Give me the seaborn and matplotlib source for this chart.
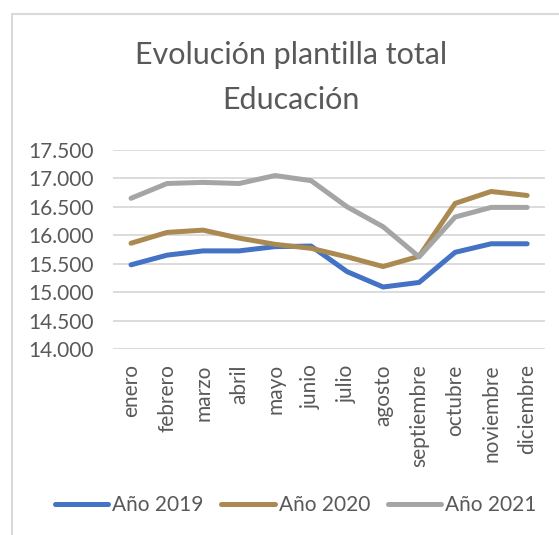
import matplotlib.pyplot as plt
import seaborn as sns
import pandas as pd
from matplotlib.lines import Line2D
from matplotlib.ticker import FuncFormatter

meses = ['enero', 'febrero', 'marzo', 'abril', 'mayo', 'junio', 'julio',
         'agosto', 'septiembre', 'octubre', 'noviembre', 'diciembre']
anio_2019 = [15480, 15650, 15725, 15725, 15800, 15810, 15360, 15090, 15170, 15700, 15850, 15850]
anio_2020 = [15860, 16050, 16090, 15950, 15840, 15770, 15620, 15450, 15630, 16560, 16770, 16700]
anio_2021 = [16650, 16910, 16930, 16910, 17050, 16960, 16500, 16150, 15620, 16320, 16490, 16490]
series = ['Año 2019', 'Año 2020', 'Año 2021']
colores = ['#4472C4', '#AA8A50', '#A5A5A5']

df = pd.DataFrame({'mes': meses * 3,
                   'x': list(range(12)) * 3,
                   'valor': anio_2019 + anio_2020 + anio_2021,
                   'serie': [s for s in series for _ in meses]})

sns.set_style('white')
plt.rcParams['font.family'] = ['Lato', 'DejaVu Sans']
gris = '#595959'

fig = plt.figure(figsize=(5.59, 5.35), dpi=100)
ax = fig.add_axes([0.2022, 0.3477, 0.773, 0.372])
sns.lineplot(data=df, x='x', y='valor', hue='serie', palette=colores,
             linewidth=3.6, legend=False, ax=ax, solid_capstyle='round')

ax.set_xlim(-0.5, 11.5)
ax.set_ylim(14000, 17500)
ax.set_yticks(range(14000, 17501, 500))
ax.yaxis.set_major_formatter(FuncFormatter(lambda v, p: f'{int(v):,}'.replace(',', '.')))
ax.set_xticks(range(12))
ax.set_xticklabels(meses, rotation=90)
ax.tick_params(axis='both', length=0, colors=gris, labelsize=15)
ax.tick_params(axis='x', pad=11)
ax.tick_params(axis='y', pad=14)
ax.grid(axis='y', color='#D9D9D9', linewidth=1.3)
ax.set_axisbelow(True)
for s in ax.spines.values():
    s.set_visible(False)
ax.set_xlabel('')
ax.set_ylabel('')

fig.text(0.52, 0.897, 'Evolución plantilla total', ha='center', va='center',
         fontsize=22, color=gris)
fig.text(0.52, 0.813, 'Educación', ha='center', va='center',
         fontsize=22, color=gris)

handles = [Line2D([0], [0], color=c, lw=3.6, solid_capstyle='round') for c in colores]
fig.legend(handles, series, loc='center', bbox_to_anchor=(0.529, 0.056), ncol=3,
           frameon=False, fontsize=15, labelcolor=gris, handlelength=2.55,
           handletextpad=0.2, columnspacing=0.87)

# chart frame (top and left edges visible)
fig.add_artist(Line2D([0.022, 1.0], [0.974, 0.974], color='#D9D9D9', lw=1.5,
                      transform=fig.transFigure))
fig.add_artist(Line2D([0.022, 0.022], [0.0, 0.974], color='#D9D9D9', lw=1.5,
                      transform=fig.transFigure))

fig.savefig('out.png', dpi=100, facecolor='white')
